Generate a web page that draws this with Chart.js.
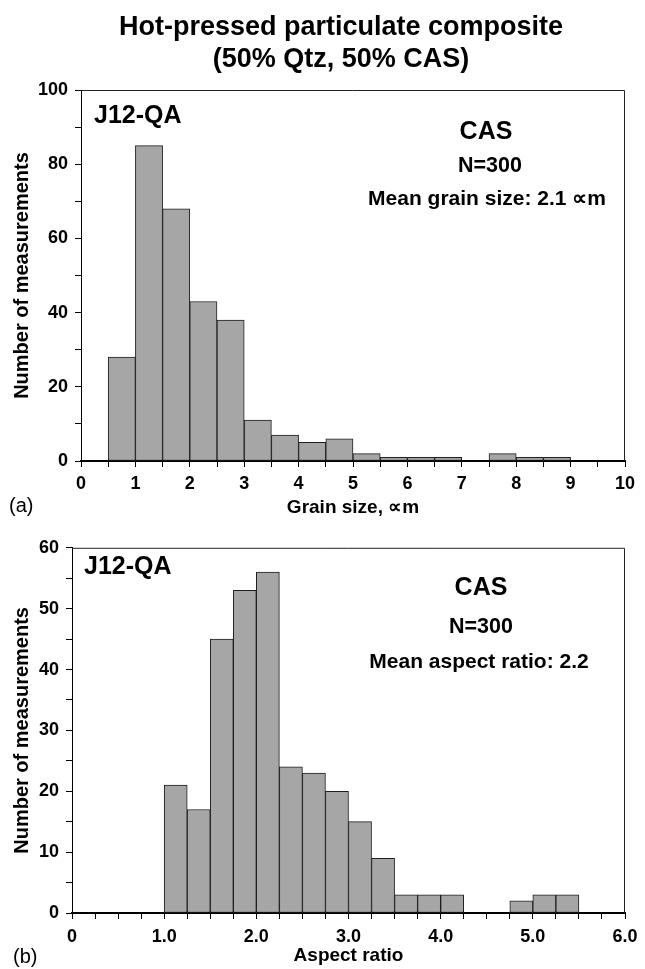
<!DOCTYPE html>
<html>
<head>
<meta charset="utf-8">
<script src="https://cdn.jsdelivr.net/npm/chart.js@4.4.1/dist/chart.umd.min.js"></script>
<style>
  html, body { margin: 0; padding: 0; background: #fff; }
  body { width: 645px; height: 969px; position: relative; overflow: hidden; }
  .box { position: absolute; left: 0; width: 645px; }
  #b1 { top: 0; height: 530px; }
  #b2 { top: 530px; height: 439px; }
</style>
</head>
<body>
<div class="box" id="b1"><canvas id="c1"></canvas></div>
<div class="box" id="b2"><canvas id="c2"></canvas></div>
<script>
// ---- data ----
const grainSizeBins = [0.75, 1.25, 1.75, 2.25, 2.75, 3.25, 3.75, 4.25, 4.75, 5.25, 5.75, 6.25, 6.75, 7.25, 7.75, 8.25, 8.75];
const grainCounts   = [28, 85, 68, 43, 38, 11, 7, 5, 6, 2, 1, 1, 1, 0, 2, 1, 1];
const aspectBins    = [1.125, 1.375, 1.625, 1.875, 2.125, 2.375, 2.625, 2.875, 3.125, 3.375, 3.625, 3.875, 4.125, 4.375, 4.625, 4.875, 5.125, 5.375];
const aspectCounts  = [21, 17, 45, 53, 56, 24, 23, 20, 15, 9, 3, 3, 3, 0, 0, 2, 3, 3];
const titleLines    = ['Hot-pressed particulate composite', '(50% Qtz, 50% CAS)'];
const grainXTicks   = { min: 0, max: 10, step: 0.5 };
const grainYTicks   = { min: 0, max: 100, step: 10, labelEvery: 20 };
const aspectXTicks  = { min: 0, max: 6, step: 0.25 };
const aspectYTicks  = { min: 0, max: 60, step: 5, labelEvery: 10 };
const panelA = { sample: 'J12-QA', phase: 'CAS', n: 'N=300', mean: 'Mean grain size: 2.1 \u221Dm', tag: '(a)', xTitle: 'Grain size, \u221Dm' };
const panelB = { sample: 'J12-QA', phase: 'CAS', n: 'N=300', mean: 'Mean aspect ratio: 2.2', tag: '(b)', xTitle: 'Aspect ratio' };
const yTitle = 'Number of measurements';

const FONT = "'Liberation Sans', Arial, Helvetica, sans-serif";
Chart.defaults.font.family = FONT;
Chart.defaults.color = '#000';

function isWhole(v) { return Math.abs(v - Math.round(v)) < 1e-9; }

function textPlugin(id, items) {
  return {
    id: id,
    afterDraw(chart) {
      const ctx = chart.ctx;
      const a = chart.chartArea;
      ctx.save();
      // plot frame (top and right)
      ctx.strokeStyle = '#222';
      ctx.lineWidth = 1;
      ctx.beginPath();
      ctx.moveTo(a.left, a.top + 0.5);
      ctx.lineTo(a.right - 0.5, a.top + 0.5);
      ctx.lineTo(a.right - 0.5, a.bottom);
      ctx.stroke();
      ctx.fillStyle = '#000';
      for (const it of items) {
        ctx.font = (it.bold === false ? '' : 'bold ') + it.size + 'px ' + FONT;
        ctx.textAlign = it.align || 'center';
        ctx.textBaseline = it.baseline || 'alphabetic';
        ctx.fillText(it.text, it.x, it.y);
      }
      ctx.restore();
    }
  };
}

function makeChart(canvasId, bins, counts, xt, yt, xTitle, layoutPad, yAxisWidth, xAxisHeight, xTickPad, xTitlePad, xLabelFn, plugin) {
  const data = bins.map((b, i) => ({ x: b, y: counts[i] }));
  return new Chart(document.getElementById(canvasId), {
    type: 'bar',
    data: {
      datasets: [{
        data: data,
        backgroundColor: '#a6a6a6',
        borderColor: '#1e1e1e',
        borderWidth: 1,
        borderSkipped: false,
        barPercentage: 1.0,
        categoryPercentage: 1.0
      }]
    },
    options: {
      responsive: true,
      maintainAspectRatio: false,
      animation: false,
      layout: { padding: layoutPad },
      plugins: { legend: { display: false }, tooltip: { enabled: false }, title: { display: false } },
      scales: {
        x: {
          type: 'linear',
          min: xt.min, max: xt.max,
          offset: false,
          grid: { display: true, offset: false, drawOnChartArea: false, drawTicks: true, tickLength: 6, color: '#000', lineWidth: 1 },
          border: { display: true, color: '#000', width: 2 },
          ticks: {
            stepSize: xt.step, autoSkip: false, maxRotation: 0, minRotation: 0,
            padding: xTickPad,
            font: { size: 18, weight: 'bold' }, color: '#000',
            callback: xLabelFn
          },
          title: { display: true, text: xTitle, font: { size: 19, weight: 'bold' }, color: '#000', padding: { top: 0, bottom: xTitlePad } },
          afterFit(s) { s.height = xAxisHeight; }
        },
        y: {
          type: 'linear',
          min: yt.min, max: yt.max,
          grid: { display: true, drawOnChartArea: false, drawTicks: true, tickLength: 6, color: '#000', lineWidth: 1 },
          border: { display: true, color: '#000', width: 1 },
          ticks: {
            stepSize: yt.step, autoSkip: false, padding: 7,
            font: { size: 18, weight: 'bold' }, color: '#000',
            callback: v => (isWhole(v / yt.labelEvery) ? String(v) : '')
          },
          title: { display: true, text: yTitle, font: { size: 20, weight: 'bold' }, color: '#000', padding: { top: 10, bottom: 0 } },
          afterFit(s) { s.width = yAxisWidth; }
        }
      }
    },
    plugins: [plugin]
  });
}

const itemsA = [
  { text: titleLines[0], x: 341, y: 35, size: 27 },
  { text: titleLines[1], x: 341, y: 67, size: 27 },
  { text: panelA.sample, x: 94, y: 123, size: 25, align: 'left' },
  { text: panelA.phase, x: 486, y: 139, size: 25 },
  { text: panelA.n, x: 490, y: 171.5, size: 21.5 },
  { text: panelA.mean, x: 487, y: 205, size: 21 },
  { text: panelA.tag, x: 9, y: 506, size: 20, align: 'left', baseline: 'middle', bold: false }
];
const itemsB = [
  { text: panelB.sample, x: 84, y: 44, size: 25, align: 'left' },
  { text: panelB.phase, x: 481, y: 65, size: 25 },
  { text: panelB.n, x: 481, y: 103, size: 21.5 },
  { text: panelB.mean, x: 479, y: 138, size: 21 },
  { text: panelB.tag, x: 13, y: 427, size: 20, align: 'left', baseline: 'middle', bold: false }
];

makeChart('c1', grainSizeBins, grainCounts, grainXTicks, grainYTicks, panelA.xTitle,
  { top: 90, right: 20, left: 0, bottom: 0 }, 81, 69, 6, 11,
  v => (isWhole(v) ? String(v) : ''), textPlugin('txtA', itemsA));

makeChart('c2', aspectBins, aspectCounts, aspectXTicks, aspectYTicks, panelB.xTitle,
  { top: 11, right: 20, left: 0, bottom: 0 }, 72, 56, 7, 2,
  v => (isWhole(v) ? (v === 0 ? '0' : v.toFixed(1)) : ''), textPlugin('txtB', itemsB));
</script>
</body>
</html>
